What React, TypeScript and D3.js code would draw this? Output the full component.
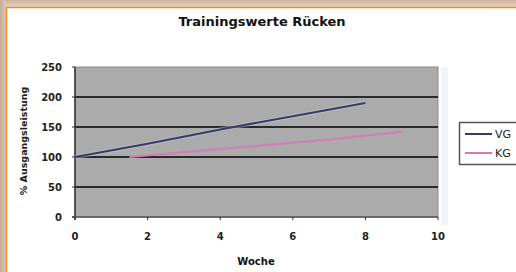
import React from "react";
import * as d3 from "d3";

const title = "Trainingswerte Rücken";
const xTitle = "Woche";
const yTitle = "% Ausgangsleistung";
const xTicks = [0, 2, 4, 6, 8, 10];
const yTicks = [0, 50, 100, 150, 200, 250];
const seriesNames = ["VG", "KG"];
const vgWeeks = [0, 2, 4, 6, 8];
const vgValues = [100, 122, 146, 168, 190];
const kgWeeks = [1.5, 4.5, 7, 9];
const kgValues = [100, 116, 129, 142];
const colors = ["#3a3a62", "#d47ab6"];

export default function App() {
  const W = 516, H = 272;
  const left = 75, right = 438, top = 67, bottom = 217;
  const x = d3.scaleLinear().domain([0, 10]).range([left, right]);
  const y = d3.scaleLinear().domain([0, 250]).range([bottom, top]);
  const line = d3.line<[number, number]>().x(d => x(d[0])).y(d => y(d[1]));
  const vg: [number, number][] = vgWeeks.map((w, i) => [w, vgValues[i]]);
  const kg: [number, number][] = kgWeeks.map((w, i) => [w, kgValues[i]]);
  const font = "'DejaVu Sans', Verdana, sans-serif";
  return (
    <svg width={W} height={H} style={{ position: "absolute", left: 0, top: 0 }} fontFamily={font}>
      <defs>
        <linearGradient id="topg" x1="0" y1="0" x2="0" y2="1">
          <stop offset="0" stopColor="#cdb49c" />
          <stop offset="1" stopColor="#e4d2c0" />
        </linearGradient>
        <linearGradient id="leftg" x1="0" y1="0" x2="1" y2="0">
          <stop offset="0" stopColor="#c4ac96" />
          <stop offset="1" stopColor="#dcc8b4" />
        </linearGradient>
      </defs>
      <rect x={0} y={0} width={W} height={H} fill="#ffffff" />
      <rect x={0} y={0} width={W} height={7} fill="url(#topg)" />
      <rect x={0} y={0} width={6} height={H} fill="url(#leftg)" />
      <line x1={6.5} y1={7} x2={6.5} y2={H} stroke="#f08a2a" strokeWidth={1.5} />
      <line x1={6} y1={7.5} x2={W} y2={7.5} stroke="#f08a2a" strokeWidth={1.5} />

      <text x={262} y={26} textAnchor="middle" fontSize={13} fontWeight="bold" fill="#111">{title}</text>

      <rect x={right + 3} y={top} width={7} height={bottom - top + 8} fill="#eef4f8" />
      <rect x={left} y={top} width={right - left} height={bottom - top} fill="#ababab" stroke="#8a8a8a" strokeWidth={1} />
      {yTicks.filter(t => t > 0 && t < 250).map(t => (
        <line key={t} x1={left} x2={right} y1={y(t)} y2={y(t)} stroke="#2a2a2a" strokeWidth={2} />
      ))}
      <line x1={left} x2={left} y1={top} y2={bottom + 3} stroke="#333" strokeWidth={1.5} />
      <line x1={left - 3} x2={right} y1={bottom} y2={bottom} stroke="#555" strokeWidth={1.5} />
      {yTicks.map(t => (
        <g key={t}>
          <line x1={left - 3} x2={left} y1={y(t)} y2={y(t)} stroke="#333" />
          <text x={62} y={y(t) + 4} textAnchor="end" fontSize={10} fontWeight="bold" fill="#222">{t}</text>
        </g>
      ))}
      {xTicks.map(t => (
        <g key={t}>
          <line x1={x(t)} x2={x(t)} y1={bottom} y2={bottom + 3} stroke="#333" />
          <text x={x(t)} y={bottom + 23} textAnchor="middle" fontSize={10} fontWeight="bold" fill="#222">{t}</text>
        </g>
      ))}
      <text x={256} y={265} textAnchor="middle" fontSize={10} fontWeight="bold" fill="#111">{xTitle}</text>
      <text transform={`translate(27,141) rotate(-90)`} textAnchor="middle" fontSize={9.5} fontWeight="bold" fill="#222">{yTitle}</text>

      <path d={line(vg) || ""} fill="none" stroke="#c8cce0" strokeWidth={4} opacity={0.5} />
      <path d={line(vg) || ""} fill="none" stroke={colors[0]} strokeWidth={2} />
      <path d={line(kg) || ""} fill="none" stroke={colors[1]} strokeWidth={2} />

      <rect x={459.5} y={122.5} width={62} height={42} fill="#ffffff" stroke="#555" strokeWidth={1.5} />
      {seriesNames.map((n, i) => (
        <g key={n}>
          <line x1={465} x2={492} y1={134 + i * 19} y2={134 + i * 19} stroke={colors[i]} strokeWidth={2} />
          <text x={495} y={138 + i * 19} fontSize={11} fill="#222">{n}</text>
        </g>
      ))}
    </svg>
  );
}
